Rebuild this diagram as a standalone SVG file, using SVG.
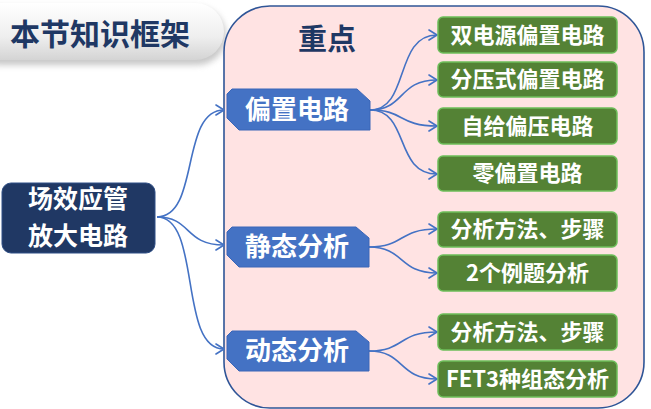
<svg xmlns="http://www.w3.org/2000/svg" width="651" height="409" viewBox="0 0 651 409">
  <style>
    .cjk { font-family: "Noto Sans CJK SC", "Noto Sans", "Liberation Sans", sans-serif; }
    .link { fill: none; stroke: #4472C4; stroke-width: 1.6; marker-end: url(#arrow); }
    .topic { fill: #4472C4; stroke: #3A66B8; stroke-width: 1; }
    .topic-text { fill: #ffffff; font-size: 26px; font-weight: bold; text-anchor: middle; }
    .leaf { fill: #548235; stroke: #6DBE5A; stroke-width: 1.5; }
    .leaf-text { fill: #ffffff; font-size: 22px; font-weight: bold; text-anchor: middle; }
  </style>
  <defs>
    <marker id="arrow" markerUnits="userSpaceOnUse" markerWidth="12" markerHeight="12" viewBox="-10 -6 12 12" refX="0" refY="0" orient="auto">
      <path d="M-8,-5 L0,0 L-8,5" fill="none" stroke="#4472C4" stroke-width="1.6" stroke-linecap="round" stroke-linejoin="round"/>
    </marker>
    <linearGradient id="titleFill" x1="0" y1="0" x2="0" y2="1">
      <stop offset="0" stop-color="#ffffff"/>
      <stop offset="0.6" stop-color="#eeeeee"/>
      <stop offset="1" stop-color="#d4d4d4"/>
    </linearGradient>
    <filter id="shadow" x="-10%" y="-20%" width="130%" height="160%">
      <feGaussianBlur stdDeviation="3"/>
    </filter>
  </defs>

  <rect width="651" height="409" fill="#ffffff"/>

  <!-- section title banner -->
  <g id="title">
    <rect x="-30" y="7" width="256" height="58" rx="29" fill="#9a9a9a" opacity="0.55" filter="url(#shadow)"/>
    <rect x="-30" y="3" width="254" height="57" rx="28.5" fill="url(#titleFill)"/>
    <text class="cjk" x="10" y="45" font-size="30" font-weight="bold" fill="#1F3864">本节知识框架</text>
  </g>

  <!-- highlighted area -->
  <g id="focus-area">
    <rect x="224" y="6" width="420" height="402" rx="46" fill="#FFE3E3" stroke="#2F5597" stroke-width="1.6"/>
    <text class="cjk" x="327" y="50" font-size="29" font-weight="bold" fill="#1F3864" text-anchor="middle">重点</text>
  </g>

  <!-- connectors -->
  <g id="connectors">
    <path class="link" d="M157,217 C200,217 180,110 224,110"/>
    <path class="link" d="M157,217 C192,217 184,245 224,245"/>
    <path class="link" d="M157,217 C202,217 178,349 224,349"/>

    <path class="link" d="M370,110 C410,110 394,35 437,35"/>
    <path class="link" d="M370,110 C405,110 398,80 437,80"/>
    <path class="link" d="M370,110 C405,110 398,126 437,126"/>
    <path class="link" d="M370,110 C410,110 394,174 437,174"/>

    <path class="link" d="M369,247 C405,247 398,229 437,229"/>
    <path class="link" d="M369,247 C405,247 398,273 437,273"/>

    <path class="link" d="M369,351 C405,351 398,332 437,332"/>
    <path class="link" d="M369,351 C405,351 398,379 437,379"/>
  </g>

  <!-- root -->
  <g id="root">
    <rect x="2" y="183" width="153" height="70" rx="9" fill="#203864" stroke="#2F4F86" stroke-width="1"/>
    <text class="cjk" x="78" y="208" font-size="25" font-weight="bold" fill="#ffffff" text-anchor="middle">场效应管</text>
    <text class="cjk" x="78" y="245" font-size="25" font-weight="bold" fill="#ffffff" text-anchor="middle">放大电路</text>
  </g>

  <!-- topics -->
  <g id="topic-bias">
    <polygon class="topic" points="232,89 357,89 370,101 370,130 239,130 227,118 227,94"/>
    <text class="cjk topic-text" x="297" y="119">偏置电路</text>
  </g>
  <g id="topic-static">
    <polygon class="topic" points="232,227 356,227 369,238 369,267 239,267 227,255 227,232"/>
    <text class="cjk topic-text" x="297" y="256">静态分析</text>
  </g>
  <g id="topic-dynamic">
    <polygon class="topic" points="232,331 356,331 369,342 369,371 239,371 227,359 227,336"/>
    <text class="cjk topic-text" x="297" y="360">动态分析</text>
  </g>

  <!-- leaves -->
  <g id="leaf-dual-supply">
    <rect class="leaf" x="438" y="17" width="179" height="36" rx="5"/>
    <text class="cjk leaf-text" x="527.5" y="43">双电源偏置电路</text>
  </g>
  <g id="leaf-divider">
    <rect class="leaf" x="438" y="62" width="179" height="35" rx="5"/>
    <text class="cjk leaf-text" x="527.5" y="87">分压式偏置电路</text>
  </g>
  <g id="leaf-self-bias">
    <rect class="leaf" x="438" y="108" width="179" height="36" rx="5"/>
    <text class="cjk leaf-text" x="527.5" y="134">自给偏压电路</text>
  </g>
  <g id="leaf-zero-bias">
    <rect class="leaf" x="438" y="156" width="179" height="35" rx="5"/>
    <text class="cjk leaf-text" x="527.5" y="181">零偏置电路</text>
  </g>
  <g id="leaf-static-method">
    <rect class="leaf" x="438" y="212" width="179" height="35" rx="5"/>
    <text class="cjk leaf-text" x="527.5" y="237">分析方法、步骤</text>
  </g>
  <g id="leaf-examples">
    <rect class="leaf" x="438" y="255" width="179" height="36" rx="5"/>
    <text class="cjk leaf-text" x="527.5" y="281">2个例题分析</text>
  </g>
  <g id="leaf-dynamic-method">
    <rect class="leaf" x="438" y="314" width="179" height="36" rx="5"/>
    <text class="cjk leaf-text" x="527.5" y="340">分析方法、步骤</text>
  </g>
  <g id="leaf-configurations">
    <rect class="leaf" x="438" y="361" width="179" height="36" rx="5"/>
    <text class="cjk leaf-text" x="527.5" y="387">FET3种组态分析</text>
  </g>
</svg>
